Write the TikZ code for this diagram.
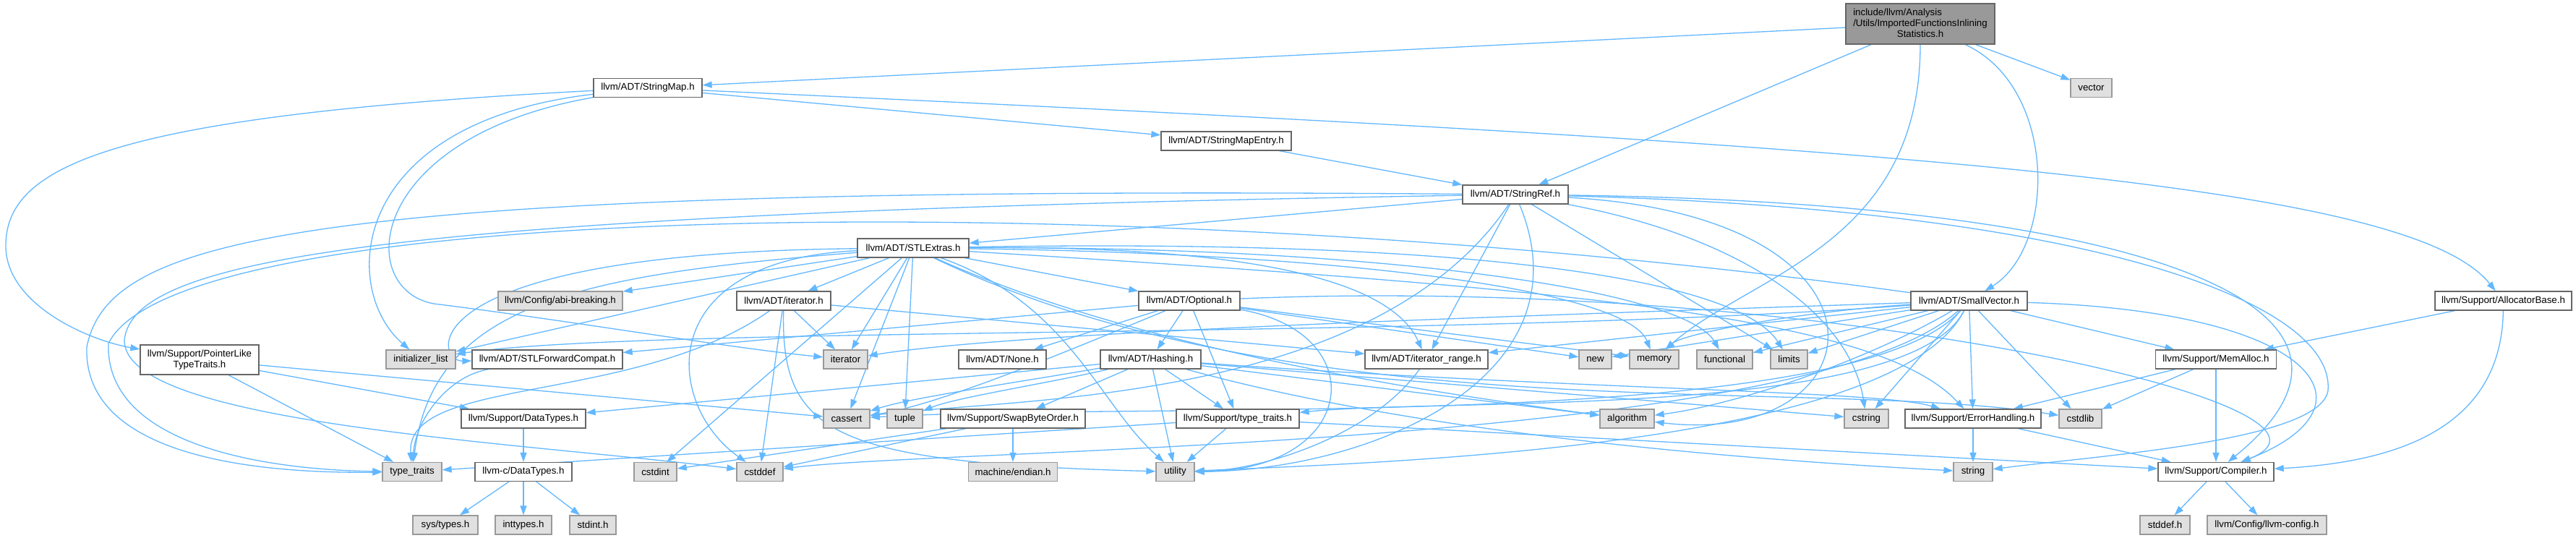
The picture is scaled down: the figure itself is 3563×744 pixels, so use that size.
\documentclass[tikz,border=0pt]{standalone}
\usepackage{fontspec}
\setmainfont{Liberation Sans}
\usetikzlibrary{arrows.meta}
\definecolor{edgec}{HTML}{63B8FF}
\definecolor{nodeb}{HTML}{666666}
\definecolor{sysb}{HTML}{999999}
\definecolor{sysf}{HTML}{E0E0E0}
\definecolor{mainf}{HTML}{999999}
\pgfdeclarelayer{back}
\pgfdeclarelayer{edges}
\pgfsetlayers{back,edges,main}
\begin{document}
\begin{tikzpicture}[x=1pt,y=-1pt,
  font=\fontsize{13.3}{15}\selectfont,
  nd/.style={draw=nodeb, fill=white, line width=1.3pt, inner sep=0pt, minimum height=26pt},
  sy/.style={draw=sysb, fill=sysf, line width=1.3pt, inner sep=0pt, minimum height=26pt},
  ed/.style={draw=edgec, line width=1.3pt, -{Triangle[length=13pt,width=9pt]}}]
\useasboundingbox (0,0) rectangle (3563,744);
\begin{pgfonlayer}{back}
\fill[white] (0,0) rectangle (3563,744);
\end{pgfonlayer}

% ---------- nodes ----------
\node[draw=nodeb, fill=mainf, line width=1.3pt, inner sep=0pt, minimum width=206pt, minimum height=56pt] (main) at (2656,33)
  {\begin{tabular}{@{}l@{}}include/llvm/Analysis\\/Utils/ImportedFunctionsInlining\\\multicolumn{1}{@{}c@{}}{Statistics.h}\end{tabular}};
\node[nd, minimum width=150pt] (smap) at (896,121.5) {llvm/ADT/StringMap.h};
\node[sy, minimum width=57pt] (vector) at (2892.5,121.5) {vector};
\node[nd, minimum width=180pt] (sme) at (1696,195) {llvm/ADT/StringMapEntry.h};
\node[nd, minimum width=146pt] (sref) at (2096,269) {llvm/ADT/StringRef.h};
\node[nd, minimum width=154pt] (stlx) at (1263,343) {llvm/ADT/STLExtras.h};
\node[nd, minimum width=161pt] (svec) at (2723.5,416) {llvm/ADT/SmallVector.h};
\node[nd, minimum width=189pt] (alloc) at (3462.5,416) {llvm/Support/AllocatorBase.h};
\node[nd, minimum width=130pt] (iterh) at (1084,416) {llvm/ADT/iterator.h};
\node[nd, minimum width=140pt] (opt) at (1645,416) {llvm/ADT/Optional.h};
\node[sy, minimum width=172pt] (abi) at (775,416) {llvm/Config/abi-breaking.h};
\node[nd, minimum width=164pt, minimum height=41pt, align=center] (ptr) at (276,497.5) {llvm/Support/PointerLike\\TypeTraits.h};
\node[sy, minimum width=96pt] (initl) at (582,497) {initializer\_list};
\node[nd, minimum width=208pt] (fwd) at (757,497) {llvm/ADT/STLForwardCompat.h};
\node[sy, minimum width=61pt] (iter) at (1169.5,497) {iterator};
\node[nd, minimum width=121pt] (none) at (1386.5,497) {llvm/ADT/None.h};
\node[nd, minimum width=139pt] (hash) at (1591.5,497) {llvm/ADT/Hashing.h};
\node[nd, minimum width=170pt] (irange) at (1973,497) {llvm/ADT/iterator\_range.h};
\node[sy, minimum width=45pt] (nnew) at (2206.5,497) {new};
\node[sy, minimum width=68pt] (memory) at (2288,497) {memory};
\node[sy, minimum width=77pt] (func) at (2385.5,497) {functional};
\node[sy, minimum width=51pt] (limits) at (2474.5,497) {limits};
\node[nd, minimum width=167pt] (malloc) at (3065,497) {llvm/Support/MemAlloc.h};
\node[nd, minimum width=172pt] (dtypes) at (724,579) {llvm/Support/DataTypes.h};
\node[sy, minimum width=64pt] (cassert) at (1171,579) {cassert};
\node[sy, minimum width=49pt] (tuple) at (1251.5,579) {tuple};
\node[nd, minimum width=200pt] (swap) at (1401,579) {llvm/Support/SwapByteOrder.h};
\node[nd, minimum width=170pt] (stt) at (1712,579) {llvm/Support/type\_traits.h};
\node[sy, minimum width=75pt] (algo) at (2250.5,579) {algorithm};
\node[sy, minimum width=61pt] (cstring) at (2581.5,579) {cstring};
\node[nd, minimum width=188pt] (errh) at (2729,579) {llvm/Support/ErrorHandling.h};
\node[sy, minimum width=59pt] (cstdlib) at (2877.5,579) {cstdlib};
\node[sy, minimum width=82pt] (ttr) at (570,652.5) {type\_traits};
\node[nd, minimum width=134pt] (cdt) at (724,652.5) {llvm-c/DataTypes.h};
\node[sy, minimum width=59pt] (cstdint) at (906.5,652.5) {cstdint};
\node[sy, minimum width=64pt] (cstddef) at (1051,652.5) {cstddef};
\node[sy, minimum width=123pt] (endian) at (1401,652.5) {machine/endian.h};
\node[sy, minimum width=53pt] (utility) at (1625.5,652.5) {utility};
\node[sy, minimum width=54pt] (string) at (2729,652.5) {string};
\node[nd, minimum width=160pt] (comp) at (3065,652.5) {llvm/Support/Compiler.h};
\node[sy, minimum width=90pt] (systypes) at (616,726) {sys/types.h};
\node[sy, minimum width=78pt] (inttypes) at (724,726) {inttypes.h};
\node[sy, minimum width=64pt] (stdint) at (820,726) {stdint.h};
\node[sy, minimum width=69pt] (stddef) at (2994.5,726) {stddef.h};
\node[sy, minimum width=165pt] (lcfg) at (3135.5,726) {llvm/Config/llvm-config.h};

% ---------- edges ----------
\begin{pgfonlayer}{edges}
% main file
\draw[ed] (main) -- (smap);
\draw[ed] (main) -- (sref);
\draw[ed] (main) -- (vector);
\draw[ed] (main) .. controls (2845,120) and (2845,340) .. (svec);
\draw[ed] (main) .. controls (2656,340) and (2420,380) .. (memory);
% StringMap
\draw[ed] (smap) -- (sme);
\draw[ed] (smap) .. controls (2600,200) and (3330,250) .. (alloc);
\draw[ed] (smap) .. controls (150,160) and (8,230) .. (8,340) .. controls (8,420) and (120,470) .. (ptr);
\draw[ed] (smap) .. controls (480,170) and (470,400) .. (initl);
\draw[ed] (smap) .. controls (505,190) and (490,400) .. (600,420) .. controls (800,445) and (1000,480) .. (iter);
% StringMapEntry
\draw[ed] (sme) -- (sref);
% StringRef
\draw[ed] (sref) -- (stlx);
\draw[ed] (sref) -- (irange);
\draw[ed] (sref) .. controls (2950,280) and (3350,420) .. (comp);
\draw[ed] (sref) .. controls (2650,300) and (2600,620) .. (algo);
\draw[ed] (sref) .. controls (1900,560) and (1400,550) .. (cassert);
\draw[ed] (sref) .. controls (500,295) and (185,360) .. (172,470) .. controls (170,585) and (700,610) .. (cstddef);
\draw[ed] (sref) .. controls (2420,330) and (2560,440) .. (cstring);
\draw[ed] (sref) -- (limits);
\draw[ed] (sref) .. controls (2900,290) and (3230,420) .. (3220,540) .. controls (3210,610) and (2900,630) .. (string);
\draw[ed] (sref) .. controls (400,255) and (150,330) .. (120,480) .. controls (115,630) and (350,655) .. (ttr);
\draw[ed] (sref) .. controls (2200,520) and (1900,650) .. (utility);
% STLExtras
\draw[ed] (stlx) -- (opt);
\draw[ed] (stlx) .. controls (560,350) and (600,500) .. (fwd);
\draw[ed] (stlx) -- (iterh);
\draw[ed] (stlx) .. controls (1700,340) and (1920,380) .. (irange);
\draw[ed] (stlx) -- (abi);
\draw[ed] (stlx) .. controls (2200,400) and (2600,440) .. (errh);
\draw[ed] (stlx) .. controls (1500,450) and (1800,520) .. (algo);
\draw[ed] (stlx) -- (cassert);
\draw[ed] (stlx) .. controls (900,360) and (920,560) .. (cstddef);
\draw[ed] (stlx) -- (cstdint);
\draw[ed] (stlx) .. controls (1800,600) and (2500,520) .. (cstdlib);
\draw[ed] (stlx) .. controls (1900,340) and (2330,400) .. (func);
\draw[ed] (stlx) -- (initl);
\draw[ed] (stlx) -- (iter);
\draw[ed] (stlx) .. controls (2000,330) and (2400,380) .. (limits);
\draw[ed] (stlx) .. controls (1850,350) and (2250,400) .. (memory);
\draw[ed] (stlx) -- (tuple);
\draw[ed] (stlx) .. controls (800,380) and (600,420) .. (ttr);
\draw[ed] (stlx) .. controls (1480,420) and (1520,560) .. (utility);
% iterator.h
\draw[ed] (iterh) -- (irange);
\draw[ed] (iterh) -- (cstddef);
\draw[ed] (iterh) -- (iter);
\draw[ed] (iterh) .. controls (880,560) and (560,520) .. (ttr);
\draw[ed] (iterh) .. controls (1080,600) and (1150,640) .. (utility);
% Optional
\draw[ed] (opt) -- (hash);
\draw[ed] (opt) -- (none);
\draw[ed] (opt) -- (fwd);
\draw[ed] (opt) .. controls (2500,380) and (3300,560) .. (comp);
\draw[ed] (opt) -- (stt);
\draw[ed] (opt) .. controls (1490,480) and (1300,560) .. (cassert);
\draw[ed] (opt) -- (memory);
\draw[ed] (opt) -- (nnew);
\draw[ed] (opt) .. controls (1900,460) and (1880,650) .. (utility);
% Hashing
\draw[ed] (hash) -- (swap);
\draw[ed] (hash) -- (stt);
\draw[ed] (hash) -- (utility);
\draw[ed] (hash) .. controls (1400,530) and (1260,550) .. (cassert);
\draw[ed] (hash) .. controls (1450,530) and (1320,550) .. (tuple);
\draw[ed] (hash) -- (dtypes);
\draw[ed] (hash) -- (algo);
\draw[ed] (hash) -- (cstring);
\draw[ed] (hash) .. controls (2200,540) and (2600,540) .. (errh);
\draw[ed] (hash) .. controls (2000,610) and (2500,640) .. (string);
% iterator_range
\draw[ed] (irange) .. controls (1900,600) and (1750,650) .. (utility);
% STLForwardCompat
\draw[ed] (fwd) .. controls (620,520) and (575,580) .. (ttr);
% SwapByteOrder
\draw[ed] (swap) -- (endian);
\draw[ed] (swap) -- (cstddef);
\draw[ed] (swap) -- (cstdint);
% Support/type_traits
\draw[ed] (stt) -- (utility);
\draw[ed] (stt) -- (ttr);
\draw[ed] (stt) -- (comp);
% DataTypes
\draw[ed] (dtypes) -- (cdt);
\draw[ed] (cdt) -- (systypes);
\draw[ed] (cdt) -- (inttypes);
\draw[ed] (cdt) -- (stdint);
% PointerLikeTypeTraits
\draw[ed] (ptr) -- (ttr);
\draw[ed] (ptr) -- (dtypes);
\draw[ed] (ptr) -- (cassert);
% SmallVector
\draw[ed] (svec) -- (irange);
\draw[ed] (svec) .. controls (3200,430) and (3300,560) .. (comp);
\draw[ed] (svec) -- (errh);
\draw[ed] (svec) -- (malloc);
\draw[ed] (svec) .. controls (2640,580) and (2000,550) .. (stt);
\draw[ed] (svec) .. controls (2580,500) and (2400,560) .. (algo);
\draw[ed] (svec) .. controls (2560,600) and (1600,555) .. (cassert);
\draw[ed] (svec) .. controls (2500,620) and (1300,620) .. (cstddef);
\draw[ed] (svec) -- (cstdlib);
\draw[ed] (svec) -- (cstring);
\draw[ed] (svec) -- (func);
\draw[ed] (svec) .. controls (2000,470) and (900,450) .. (initl);
\draw[ed] (svec) .. controls (2000,440) and (1400,460) .. (iter);
\draw[ed] (svec) -- (limits);
\draw[ed] (svec) .. controls (2500,430) and (2330,460) .. (memory);
\draw[ed] (svec) -- (nnew);
\draw[ed] (svec) .. controls (1600,260) and (250,270) .. (150,475) .. controls (145,620) and (380,650) .. (ttr);
\draw[ed] (svec) .. controls (2620,620) and (1900,640) .. (utility);
% AllocatorBase
\draw[ed] (alloc) -- (malloc);
\draw[ed] (alloc) .. controls (3460,600) and (3300,640) .. (comp);
% MemAlloc
\draw[ed] (malloc) -- (comp);
\draw[ed] (malloc) -- (errh);
\draw[ed] (malloc) -- (cstdlib);
% ErrorHandling
\draw[ed] (errh) -- (comp);
\draw[ed] (errh) -- (string);
% Compiler
\draw[ed] (comp) -- (stddef);
\draw[ed] (comp) -- (lcfg);
\end{pgfonlayer}
\end{tikzpicture}
\end{document}
